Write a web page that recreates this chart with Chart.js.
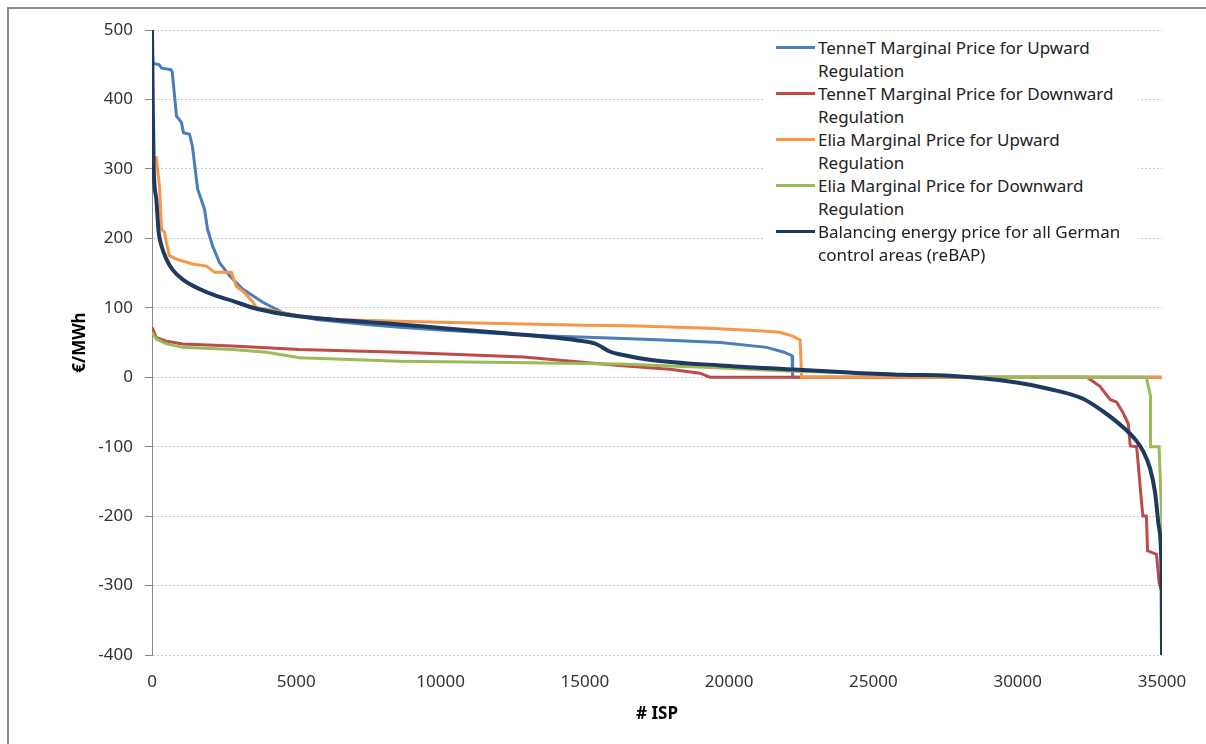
<!DOCTYPE html>
<html>
<head>
<meta charset="utf-8">
<script src="https://cdn.jsdelivr.net/npm/chart.js@4.4.1/dist/chart.umd.min.js"></script>
<style>
html, body { margin:0; padding:0; background:#fff; overflow:hidden; }
#wrap { position:relative; width:1206px; height:744px; }
#frame { position:absolute; left:7px; top:7px; width:1230px; height:770px; border-left:2px solid #8c8c8c; border-top:2px solid #8c8c8c; }
#c { position:absolute; left:0; top:0; }
#legend { position:absolute; left:763px; top:36px; width:375px; height:228px; background:#fff;
  font-family:"Noto Sans", sans-serif; font-size:17px; line-height:23px; color:#222; }
.item { position:relative; height:46px; }
.swatch { position:absolute; left:13px; top:10px; width:39px; height:3px; }
.txt { position:absolute; left:55px; top:0; white-space:nowrap; }
</style>
</head>
<body>
<div id="wrap">
<div id="frame"></div>
<canvas id="c" width="1206" height="744"></canvas>
<div id="legend"></div>
</div>
<script>

// Series (x = # ISP, y = €/MWh)

const tennetUpX = [0,40,250,330,650,700,850,1020,1090,1300,1400,1580,1820,1925,2100,2340,2690,3140,3840,4530,5700,7430,8580,10000,12000,14000,15600,17500,19700,21300,21900,22180,22200,35000];
const tennetUpY = [470,452,450,445,443,440,376,367,352,350,333,271,242,213,189,165,146,127,108,93,83,76,72,68,63,59,57,54,50,43,36,31,0,0];

const tennetDownX = [0,150,500,1060,2790,5110,8580,12870,16300,17950,18990,19330,32400,32850,33200,33430,33650,33830,33900,34120,34160,34290,34340,34460,34500,34810,34900,35000,35000];
const tennetDownY = [72,57,52,48,45,40,36,29,16.5,11.5,5.8,0,0,-13,-32,-36,-51,-67,-99,-100,-118,-180,-200,-200,-250,-255,-296,-310,-400];

const eliaUpX = [0,40,150,260,330,430,500,600,850,1400,1890,2170,2750,2920,3200,3500,3620,3970,5110,6270,8230,10000,12500,15000,16550,19330,21000,21760,22180,22460,22510,35000];
const eliaUpY = [333,316,316,275,213,209,194,175,170,163,160,151,151,131,122,108,100,98,88,83,81,79,77,75,74,70.5,67,64.8,59.5,53.7,0,0];

const eliaDownX = [0,150,500,1060,2790,3970,5110,8580,11700,16200,19100,22000,24180,26940,28500,34460,34600,34600,34900,34970,35000,35000];
const eliaDownY = [65,55,48,43,40,36,28,23,21.6,19,14.4,9,6.5,2,0,0,-27,-100,-100,-180,-220,-312];

const rebapX = [0,30,60,150,230,330,500,710,1060,1650,2230,2790,3500,4530,6270,8580,10000,11700,14020,14930,15410,15860,16200,17360,19690,22000,24180,26000,27640,29960,31100,32260,32950,33650,34120,34340,34590,34760,34870,34970,34990,35000];
const rebapY = [500,380,300,256,209,189,170,155,141,127,117,110,100,91,83,76,71,65,57,52,47.5,37,33,24.5,17,11.5,6.7,3.5,2,-7.7,-17,-31,-49,-72,-92,-106,-132,-166,-209,-257,-305,-400];

const xTicks = [0, 5000, 10000, 15000, 20000, 25000, 30000, 35000];
const yTicks = [-400, -300, -200, -100, 0, 100, 200, 300, 400, 500];

const seriesNames = [
  ["TenneT Marginal Price for Upward", "Regulation"],
  ["TenneT Marginal Price for Downward", "Regulation"],
  ["Elia Marginal Price for Upward", "Regulation"],
  ["Elia Marginal Price for Downward", "Regulation"],
  ["Balancing energy price for all German", "control areas (reBAP)"]
];
const seriesColors = ["#4a7ebb", "#be4b48", "#f79646", "#9bbb59", "#1f3a60"];


function pts(xs, ys) {
  return xs.map((x, i) => ({x: x, y: ys[i]}));
}

const allX = [tennetUpX, tennetDownX, eliaUpX, eliaDownX, rebapX];
const allY = [tennetUpY, tennetDownY, eliaUpY, eliaDownY, rebapY];

const datasets = allX.map((xs, i) => ({
  label: seriesNames[i].join(" "),
  data: pts(xs, allY[i]),
  borderColor: seriesColors[i],
  borderWidth: i == 4 ? 4 : 3,
  pointRadius: 0,
  // reBAP is a smooth curve, the others are stepped
  cubicInterpolationMode: i == 4 ? "monotone" : "default",
  tension: 0,
  fill: false,
  order: 4 - i      // later series on top, like the original
}));

const font = "'Noto Sans', sans-serif";

new Chart(document.getElementById("c"), {
  type: "line",
  data: { datasets: datasets },
  options: {
    responsive: false,
    animation: false,
    devicePixelRatio: 1,
    layout: { padding: { left: 0, right: 44, top: 30, bottom: 0 } },
    plugins: { legend: { display: false }, tooltip: { enabled: false } },
    scales: {
      x: {
        type: "linear",
        min: xTicks[0], max: xTicks[xTicks.length - 1],
        afterBuildTicks: s => { s.ticks = xTicks.map(v => ({value: v})); },
        grid: { display: false, drawTicks: false },
        border: { display: false },
        ticks: { padding: 17, color: "#333", font: { family: font, size: 17 }, maxRotation: 0,
                 callback: v => String(v) },
        title: { display: true, text: "# ISP", color: "#000", font: { family: font, size: 17, weight: "bold" }, padding: { top: 0, bottom: 20 } },
        afterFit: s => { s.height = 89; }
      },
      y: {
        min: yTicks[0], max: yTicks[yTicks.length - 1],
        afterBuildTicks: s => { s.ticks = yTicks.map(v => ({value: v})); },
        grid: { color: "#c8c8c8", tickColor: "#868686", tickLength: 7, tickBorderDash: [] },
        border: { display: true, color: "#868686", width: 1, dash: [2, 2] },
        ticks: { padding: 12, color: "#333", font: { family: font, size: 17 }, callback: v => String(v) },
        title: { display: true, text: "€/MWh", color: "#000", font: { family: font, size: 17, weight: "bold" }, padding: { top: 70, bottom: 0 } },
        afterFit: s => { s.width = 152; }
      }
    }
  }
});


// legend as html so the labels wrap like the original
let html = "";
seriesNames.forEach((n, i) => {
  html += '<div class="item"><span class="swatch" style="background:' + seriesColors[i] + '"></span>' +
          '<span class="txt">' + n[0] + '<br>' + n[1] + '</span></div>';
});
document.getElementById("legend").innerHTML = html;

</script>
</body>
</html>
